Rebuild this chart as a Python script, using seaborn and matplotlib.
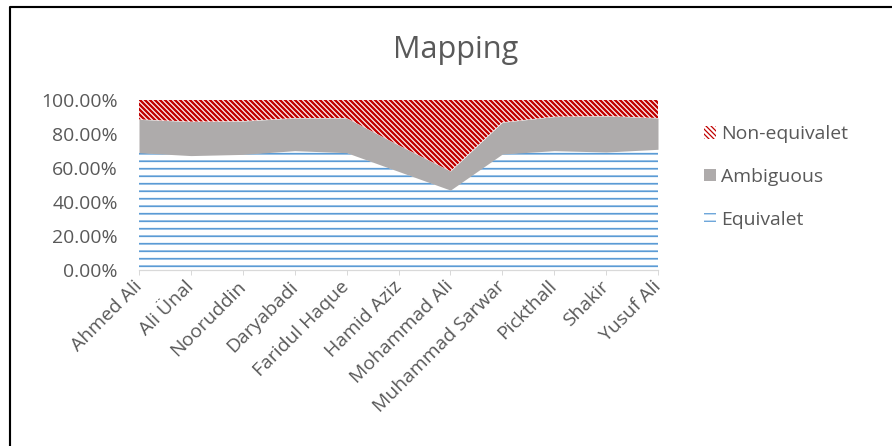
import matplotlib
matplotlib.use("Agg")
import matplotlib.pyplot as plt
from matplotlib.patches import Patch
from matplotlib.lines import Line2D
import numpy as np
import pandas as pd
import seaborn as sns

# Share of each mapping class per translator (percent)
translators = ["Ahmed Ali", "Ali Ünal", "Nooruddin", "Daryabadi", "Faridul Haque",
               "Hamid Aziz", "Mohammad Ali", "Muhammad Sarwar", "Pickthall",
               "Shakir", "Yusuf Ali"]
equivalent = [69.0, 67.3, 68.0, 70.2, 69.0, 58.0, 47.0, 68.2, 70.2, 69.4, 71.0]
ambiguous = [19.6, 20.0, 19.6, 19.2, 20.4, 15.5, 11.2, 18.7, 20.0, 21.2, 18.4]
non_equivalent = [11.4, 12.7, 12.4, 10.6, 10.6, 26.5, 41.8, 13.1, 9.8, 9.4, 10.6]
series_names = ["Equivalet", "Ambiguous", "Non-equivalet"]
y_ticks = [0, 20, 40, 60, 80, 100]
title = "Mapping"

sns.set_theme(style="white")
plt.rcParams["font.family"] = ["Open Sans", "DejaVu Sans"]

TEXT = "#595959"
AXIS = "#D9D9D9"
BLUE = "#5B9BD5"
GRAY = "#AEABAB"
RED = "#C00000"

df = pd.DataFrame({series_names[0]: equivalent,
                   series_names[1]: ambiguous,
                   series_names[2]: non_equivalent}, index=translators)
# 100% stacked: normalise each row
df = df.div(df.sum(axis=1), axis=0) * 100
tops = df.cumsum(axis=1)
bottoms = tops.shift(1, axis=1).fillna(0)

DPI = 90
fig = plt.figure(figsize=(892 / DPI, 446 / DPI), dpi=DPI)
ax = fig.add_axes([139 / 892, 1 - 270 / 446, 519 / 892, 170 / 446])

x = np.arange(len(translators))
styles = {
    series_names[0]: dict(facecolor="white", edgecolor=BLUE, hatch="--", hlw=1.4),
    series_names[1]: dict(facecolor=GRAY, edgecolor=GRAY, hatch=None, hlw=1.0),
    series_names[2]: dict(facecolor="white", edgecolor=RED, hatch="\\" * 6, hlw=1.9),
}

handles = {}
for name in series_names:
    st = styles[name]
    with plt.rc_context({"hatch.linewidth": st["hlw"]}):
        ax.fill_between(x, bottoms[name].values, tops[name].values,
                        facecolor=st["facecolor"], edgecolor=st["edgecolor"],
                        hatch=st["hatch"], linewidth=0)
        handles[name] = Patch(facecolor=st["facecolor"], edgecolor=st["edgecolor"],
                              hatch=st["hatch"], linewidth=0)

ax.set_xlim(0, len(translators) - 1)
ax.set_ylim(0, 100)
ax.set_yticks(y_ticks)
ax.set_yticklabels([f"{v:.2f}%" for v in y_ticks])
ax.set_xticks(x)
ax.set_xticklabels(translators, rotation=45, ha="right", va="center",
                   rotation_mode="anchor")
ax.tick_params(axis="y", length=0, pad=17, labelsize=15.5, labelcolor=TEXT)
ax.tick_params(axis="x", length=4, width=0.8, color=AXIS, direction="out",
               pad=7, labelsize=15.5, labelcolor=TEXT, bottom=True)

for side in ("top", "right", "left"):
    ax.spines[side].set_visible(False)
ax.spines["bottom"].set_color(AXIS)
ax.spines["bottom"].set_linewidth(1.0)
ax.set_facecolor("white")

fig.text(456 / 892, 1 - 58 / 446, title, ha="center", va="baseline",
         fontsize=24.5, color=TEXT)

order = [series_names[2], series_names[1], series_names[0]]
fig.legend([handles[n] for n in order], order, loc="center left",
           bbox_to_anchor=(704 / 892, 1 - 177 / 446), frameon=False,
           fontsize=15.5, labelcolor=TEXT, handlelength=0.6, handleheight=0.6,
           handletextpad=0.3, labelspacing=1.27, borderpad=0, borderaxespad=0)

# chart frame edges
fig.add_artist(Line2D([10 / 892, 10 / 892, 1.0], [0.0, 1 - 6.5 / 446, 1 - 6.5 / 446],
                      transform=fig.transFigure, color="black", linewidth=1.7))

fig.savefig("out.png", dpi=DPI, facecolor="white")
